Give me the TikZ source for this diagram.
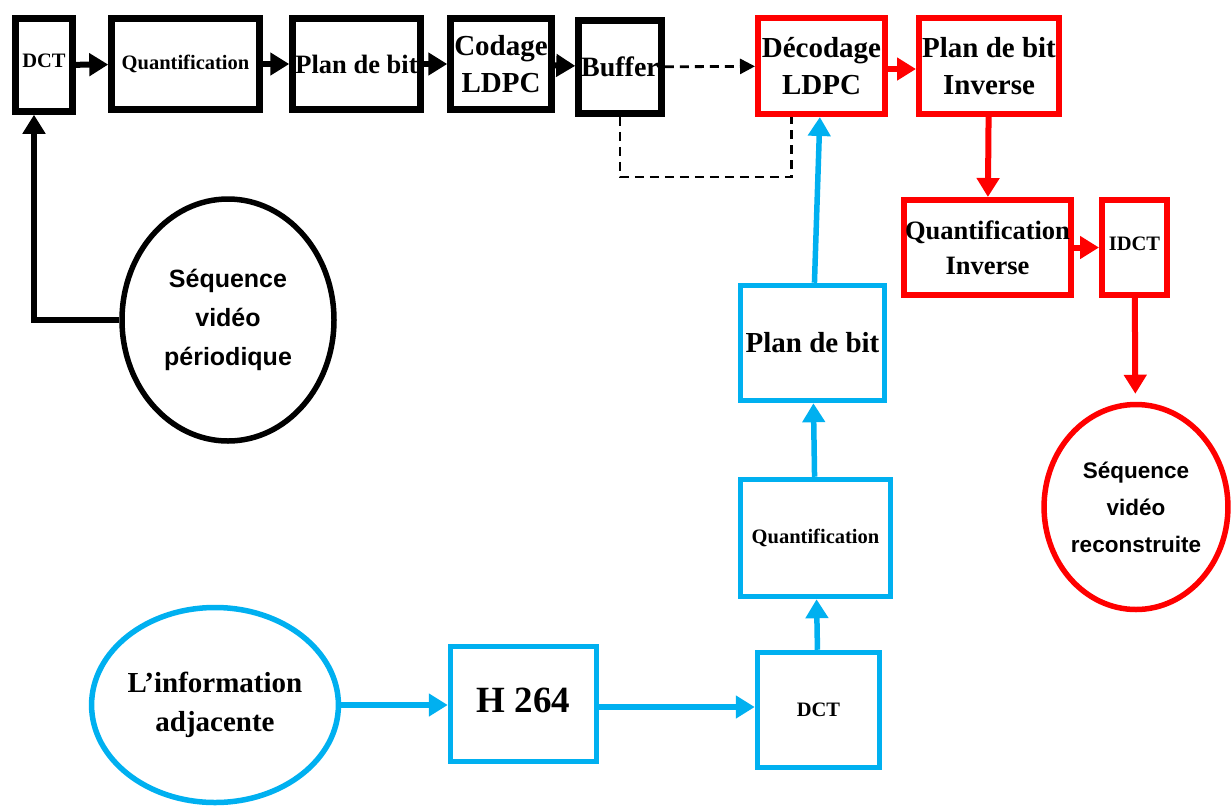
\documentclass[tikz,border=0pt]{standalone}
\usepackage{fontspec}
\setmainfont{Liberation Serif}
\newfontfamily\sansfont{Liberation Sans}
\usepackage{tikz}
\usetikzlibrary{arrows.meta,shapes.geometric}
\definecolor{boxred}{HTML}{FF0000}
\definecolor{boxblue}{HTML}{00B0F0}
\tikzset{
  every picture/.style={
    line join=miter,
    x=1pt, y=-1pt,
  },
  % boxes
  box/.style={draw, line width=6.5pt, inner sep=0pt, align=center,
    font=\bfseries\fontsize{29}{37}\selectfont},
  blackbox/.style={box, draw=black},
  redbox/.style={box, draw=boxred, line width=6pt},
  bluebox/.style={box, draw=boxblue, line width=5.5pt},
  smalltext/.style={font=\bfseries\fontsize{20.5}{24}\selectfont},
  bubble/.style={ellipse, draw, line width=5.5pt, inner sep=0pt, align=center},
  % connectors
  link/.style={line width=6pt, -{Triangle[length=19pt,width=22pt]}},
  blackarrow/.style={link, draw=black},
  redarrow/.style={link, draw=boxred},
  bluearrow/.style={link, draw=boxblue, line width=5.5pt},
  dashline/.style={line width=2.8pt, dash pattern=on 9pt off 6pt},
  dasharrow/.style={dashline, -{Triangle[length=15pt,width=15pt]}},
}

\begin{document}
\begin{tikzpicture}
    \useasboundingbox (0,0) rectangle (1232,807);
    % Encoder (top row)
    \node[blackbox, smalltext, minimum width=57, minimum height=93] (dct) at (44,65) {\raisebox{8pt}{DCT}};
    \node[blackbox, smalltext, minimum width=148, minimum height=91] (quant) at (185.5,64) {Quantification};
    \node[blackbox, font=\bfseries\fontsize{26.5}{34}\selectfont, minimum width=128, minimum height=91] (plan) at (356.5,64) {Plan de bit};
    \node[blackbox, minimum width=101, minimum height=91] (codage) at (501,64) {Codage\\LDPC};
    \node[blackbox, font=\bfseries\fontsize{28}{34}\selectfont, minimum width=83, minimum height=93] (buffer) at (620,67) {Buffer};
    % Decoder (red)
    \node[redbox, minimum width=127, minimum height=96] (decod) at (821.5,66) {Décodage\\LDPC};
    \node[redbox, minimum width=140, minimum height=96] (planinv) at (989,66) {Plan de bit\\Inverse};
    \node[redbox, font=\bfseries\fontsize{26.5}{35}\selectfont, minimum width=167, minimum height=95] (quantinv) at (987.5,247.5) {Quantification\\Inverse};
    \node[redbox, smalltext, minimum width=65, minimum height=95] (idct) at (1134.5,247.5) {\raisebox{8pt}{IDCT}};
    % Side information (blue)
    \node[bluebox, minimum width=144, minimum height=115] (bplan) at (812.5,343) {Plan de bit};
    \node[bluebox, smalltext, minimum width=150, minimum height=117] (bquant) at (815.5,538) {Quantification};
    \node[bluebox, smalltext, minimum width=122, minimum height=115] (bdct) at (818.5,710) {DCT};
    \node[bluebox, font=\bfseries\fontsize{37}{40}\selectfont, minimum width=146, minimum height=115] (htsf) at (523.5,704) {\raisebox{8pt}{H 264}};
    % Sources and output
    \node[bubble, draw=black, font=\sansfont\bfseries\fontsize{25}{39}\selectfont, minimum width=212, minimum height=242] (seq) at (228,320) {Séquence\\vidéo\\périodique};
    \node[bubble, draw=boxblue, font=\bfseries\fontsize{29}{39}\selectfont, minimum width=240, minimum height=195] (info) at (215,705) {L’information\\adjacente};
    \node[bubble, draw=boxred, font=\sansfont\bfseries\fontsize{22.5}{37}\selectfont, minimum width=178, minimum height=205] (rec) at (1136,507) {Séquence\\vidéo\\reconstruite};
    % Encoder chain
    \draw[blackarrow] (dct) -- (quant);
    \draw[blackarrow] (quant) -- (plan);
    \draw[blackarrow] (plan) -- (codage);
    \draw[blackarrow] (codage) -- (buffer);
    \draw[blackarrow] (seq.west) -| ([xshift=-10pt]dct.south);
    % Channel
    \coordinate (dashlevel) at (0,177);
    \draw[dasharrow] (buffer) -- (decod);
    \draw[dashline] (buffer.south) -- (buffer.south |- dashlevel) -| ([xshift=-30pt]decod.south);
    % Decoder chain
    \draw[redarrow] ([yshift=-3pt]decod.east) -- ([yshift=-3pt]decod.east -| planinv.west);
    \draw[redarrow] (planinv) -- (quantinv);
    \draw[redarrow] (quantinv) -- (idct);
    \draw[redarrow, shorten >=8pt] (idct) -- (rec);
    % Side information chain
    \draw[bluearrow] (info.east) -- (info.east -| htsf.west);
    \draw[bluearrow] ([yshift=-3pt]htsf.east) -- ([yshift=-3pt]htsf.east -| bdct.west);
    \draw[bluearrow] (bdct) -- (bquant);
    \draw[bluearrow] (bquant) -- (bplan);
    \draw[bluearrow] (bplan) -- (decod);
\end{tikzpicture}
\end{document}
